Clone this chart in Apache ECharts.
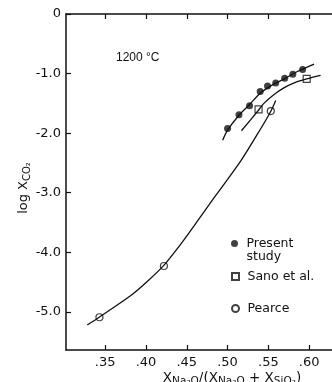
<!DOCTYPE html>
<html>
<head>
<meta charset="utf-8">
<script src="https://cdn.jsdelivr.net/npm/echarts@6/dist/echarts.min.js"></script>
<style>
  html, body { margin: 0; padding: 0; background: #fff; }
  #chart { width: 332px; height: 382px; }
</style>
</head>
<body>
<div id="chart"></div>
<script>
// measured points
var presentX = [0.500, 0.514, 0.527, 0.540, 0.549, 0.559, 0.570, 0.580, 0.592];
var presentY = [-1.92, -1.69, -1.54, -1.30, -1.21, -1.16, -1.08, -1.01, -0.93];
var sanoX = [0.538, 0.597];
var sanoY = [-1.60, -1.09];
var pearceX = [0.343, 0.422, 0.553];
var pearceY = [-5.09, -4.23, -1.63];

// hand drawn curves
var presentFitX = [0.494, 0.500, 0.514, 0.527, 0.540, 0.555, 0.570, 0.585, 0.606];
var presentFitY = [-2.12, -1.95, -1.70, -1.52, -1.33, -1.19, -1.085, -0.97, -0.84];
var sanoFitX = [0.517, 0.5376, 0.5445, 0.557, 0.569, 0.581, 0.597, 0.614];
var sanoFitY = [-1.96, -1.62, -1.50, -1.35, -1.24, -1.16, -1.09, -1.03];
var pearceFitX = [0.328, 0.3426, 0.381, 0.4016, 0.4219, 0.4384, 0.4587, 0.4853, 0.516, 0.5404, 0.5527, 0.559];
var pearceFitY = [-5.22, -5.09, -4.73, -4.49, -4.22, -3.94, -3.56, -3.05, -2.47, -1.93, -1.64, -1.45];

var xTicks = [0.35, 0.40, 0.45, 0.50, 0.55, 0.60];
var yTicks = [0, -1, -2, -3, -4, -5];

function zip(xs, ys) {
  var out = [];
  for (var i = 0; i < xs.length; i++) out.push([xs[i], ys[i]]);
  return out;
}

var ink = '#111';
var font = 'DejaVu Sans';

var myChart = echarts.init(document.getElementById('chart'));

var curveStyle = { color: ink, width: 1.3 };
var legendText = { fontFamily: font, fontSize: 12.5, color: ink, lineHeight: 13 };

var option = {
  backgroundColor: '#fff',
  animation: false,
  textStyle: { fontFamily: font, color: ink },
  title: {
    text: '1200 °C',
    left: 111, top: 47,
    textStyle: { fontFamily: 'Liberation Sans', fontSize: 12, fontWeight: 'normal', color: ink }
  },
  legend: [
    {
      left: 231, top: 224, padding: 0, itemWidth: 14, itemHeight: 7,
      data: [{ name: 'Present study', icon: 'circle' }],
      formatter: function () { return '\nPresent\nstudy'; },
      textStyle: legendText
    },
    {
      left: 231, top: 270, padding: 0, itemWidth: 14, itemHeight: 7,
      data: [{ name: 'Sano et al.', icon: 'path://M0 0H10V10H0Z' }],
      textStyle: legendText
    },
    {
      left: 231, top: 302, padding: 0, itemWidth: 14, itemHeight: 7,
      data: [{ name: 'Pearce', icon: 'circle' }],
      textStyle: legendText
    }
  ],
  grid: { left: 66, top: 14, right: 0, bottom: 32, outerBoundsMode: 'none', containLabel: false },
  xAxis: [
    {
      type: 'value', position: 'bottom', min: 0.302, max: 0.628,
      splitLine: { show: false },
      axisLine: { onZero: false, lineStyle: { color: ink, width: 1.5 } },
      axisTick: { inside: true, length: 5, customValues: xTicks, lineStyle: { color: ink, width: 1.2 } },
      axisLabel: {
        customValues: xTicks, color: ink, fontFamily: font, fontSize: 13, margin: 6,
        formatter: function (v) { return '.' + Math.round(v * 100); }
      },
      name: 'X{s|Na₂O}/(X{s|Na₂O} + X{s|SiO₂})',
      nameLocation: 'middle', nameGap: 19, nameMoveOverlap: false,
      nameTextStyle: {
        fontFamily: font, fontSize: 13.5, color: ink, padding: [0, 0, 0, 66],
        rich: {
          s: { fontSize: 10.5, fontFamily: font, color: ink, padding: [7, 0, 0, 0], verticalAlign: 'bottom' }
        }
      }
    },
    {
      type: 'value', position: 'top', min: 0.302, max: 0.628,
      splitLine: { show: false },
      axisLine: { onZero: false, lineStyle: { color: ink, width: 1.5 } },
      axisTick: { inside: true, length: 5, customValues: xTicks, lineStyle: { color: ink, width: 1.2 } },
      axisLabel: { show: false }
    }
  ],
  yAxis: {
    type: 'value', min: -5.64, max: 0,
    splitLine: { show: false },
    axisLine: { onZero: false, lineStyle: { color: ink, width: 1.5 } },
    axisTick: { inside: true, length: 5, customValues: yTicks, lineStyle: { color: ink, width: 1.2 } },
    axisLabel: {
      customValues: yTicks, color: ink, fontFamily: font, fontSize: 13, margin: 5,
      formatter: function (v) { return v === 0 ? '0' : v.toFixed(1); }
    },
    name: 'log X{s|CO₂}',
    nameLocation: 'middle', nameGap: 34, nameRotate: 90, nameMoveOverlap: false,
    nameTextStyle: {
      fontFamily: font, fontSize: 13, color: ink, padding: [0, 12, 0, 0],
      rich: {
        s: { fontSize: 10, fontFamily: font, color: ink, padding: [7, 0, 0, 0], verticalAlign: 'bottom' }
      }
    }
  },
  series: [
    { type: 'line', data: zip(presentFitX, presentFitY), smooth: 0.3, showSymbol: false, silent: true, lineStyle: curveStyle },
    { type: 'line', data: zip(sanoFitX, sanoFitY), smooth: 0.3, showSymbol: false, silent: true, lineStyle: curveStyle },
    { type: 'line', data: zip(pearceFitX, pearceFitY), smooth: 0.3, showSymbol: false, silent: true, lineStyle: curveStyle },
    {
      name: 'Present study', type: 'scatter', data: zip(presentX, presentY),
      symbol: 'circle', symbolSize: 7, itemStyle: { color: ink }
    },
    {
      name: 'Sano et al.', type: 'scatter', data: zip(sanoX, sanoY),
      symbol: 'rect', symbolSize: 7, itemStyle: { color: '#fff', borderColor: ink, borderWidth: 1.2 }
    },
    {
      name: 'Pearce', type: 'scatter', data: zip(pearceX, pearceY),
      symbol: 'circle', symbolSize: 7, itemStyle: { color: '#fff', borderColor: ink, borderWidth: 1.2 }
    }
  ]
};

myChart.setOption(option);
</script>
</body>
</html>
